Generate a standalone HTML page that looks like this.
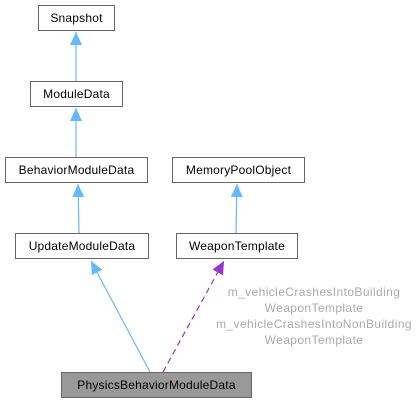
<!DOCTYPE html><html><head><style>
body{margin:0;background:#fff;width:420px;height:404px;overflow:hidden}
.n{position:absolute;box-sizing:border-box;border:1px solid #666;background:#fff;font:12px "Liberation Sans",sans-serif;color:#000;text-align:center;line-height:24px;height:26px;letter-spacing:0.2px}
.l{position:absolute;font:12px "Liberation Sans",sans-serif;color:#aaa;text-align:center;width:220px;line-height:16px;letter-spacing:0.4px}
</style></head><body>
<svg width="420" height="404" style="position:absolute;left:0;top:0">
<defs>
<marker id="b" markerWidth="14" markerHeight="12" refX="13" refY="6" orient="auto" markerUnits="userSpaceOnUse"><path d="M0,0 L13,6 L0,12 z" fill="#63b8ff"/></marker>
<marker id="p" markerWidth="14" markerHeight="12" refX="13" refY="6" orient="auto" markerUnits="userSpaceOnUse"><path d="M0,0 L13,6 L0,12 z" fill="#9a32cd"/></marker>
</defs>
<g stroke="#63b8ff" stroke-width="1.2" fill="none">
<line x1="76" y1="81" x2="76" y2="32" marker-end="url(#b)"/>
<line x1="76" y1="157" x2="76" y2="108" marker-end="url(#b)"/>
<line x1="79" y1="233" x2="78" y2="184" marker-end="url(#b)"/>
<line x1="236" y1="233" x2="237" y2="184" marker-end="url(#b)"/>
<line x1="150" y1="372" x2="91" y2="261" marker-end="url(#b)"/>
</g>
<line x1="163" y1="372" x2="224" y2="261" stroke="#9a32cd" stroke-width="1.2" stroke-dasharray="6,4" marker-end="url(#p)"/>
</svg>
<div class="n" style="left:38px;top:5px;width:77px">Snapshot</div>
<div class="n" style="left:30px;top:81px;width:93px">ModuleData</div>
<div class="n" style="left:5px;top:157px;width:143px">BehaviorModuleData</div>
<div class="n" style="left:172px;top:157px;width:133px">MemoryPoolObject</div>
<div class="n" style="left:15px;top:233px;width:134px">UpdateModuleData</div>
<div class="n" style="left:176px;top:233px;width:122px">WeaponTemplate</div>
<div class="n" style="left:61px;top:372px;width:191px;background:#999">PhysicsBehaviorModuleData</div>
<div class="l" style="left:204px;top:284px">m_vehicleCrashesIntoBuilding<br>WeaponTemplate<br>m_vehicleCrashesIntoNonBuilding<br>WeaponTemplate</div>
</body></html>
